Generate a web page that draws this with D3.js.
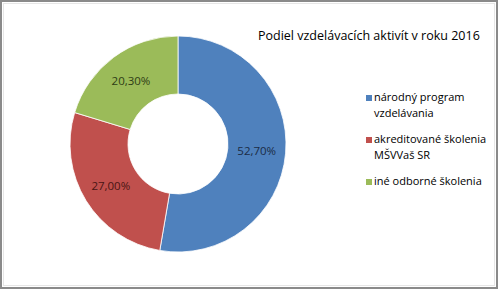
<!DOCTYPE html>
<html>
<head>
<meta charset="utf-8">
<script src="https://cdn.jsdelivr.net/npm/d3@7"></script>
<style>
  body { margin: 0; background: #fff; }
  svg { display: block; font-family: "Open Sans", "Noto Sans", sans-serif; }
</style>
</head>
<body>
<svg id="chart" width="498" height="289"></svg>
<script>
const categories = ["národný program vzdelávania", "akreditované školenia MŠVVaš SR", "iné odborné školenia"];
const legendLines = [["národný program", "vzdelávania"], ["akreditované školenia", "MŠVVaš SR"], ["iné odborné školenia"]];
const values = [52.7, 27.0, 20.3];
const labels = ["52,70%", "27,00%", "20,30%"];
const colors = ["#4F81BD", "#C0504D", "#9BBB59"];
const labelColors = ["#1b2c45", "#4a1514", "#2f3d16"];

const svg = d3.select("#chart");

// frame
svg.append("rect").attr("x", 1).attr("y", 1).attr("width", 496).attr("height", 287)
    .style("fill", "#fff").style("stroke", "#8a8a8a").style("stroke-width", 2);
svg.append("rect").attr("x", 3.5).attr("y", 3.5).attr("width", 491).attr("height", 282)
    .style("fill", "none").style("stroke", "#e6e6e6").style("stroke-width", 1);

svg.append("text").attr("x", 258).attr("y", 40).text("Podiel vzdelávacích aktivít v roku 2016")
    .style("font-size", "12.5px").style("fill", "#000");

const cx = 178, cy = 144;
const pie = d3.pie().sort(null).value(d => d);
const arc = d3.arc().innerRadius(50).outerRadius(108);
const labelArc = d3.arc().innerRadius(79).outerRadius(79);

let g = svg.append("g").attr("transform", `translate(${cx},${cy})`);
let arcs = pie(values);
g.selectAll("path").data(arcs).enter().append("path")
    .attr("d", arc).style("fill", (d, i) => colors[i]).style("stroke", "#fff").style("stroke-width", 0.8);

g.selectAll("text").data(arcs).enter().append("text")
    .attr("x", d => labelArc.centroid(d)[0]).attr("y", d => labelArc.centroid(d)[1])
    .attr("text-anchor", "middle").attr("dy", "0.35em")
    .text((d, i) => labels[i]).style("font-size", "11.5px").style("fill", (d, i) => labelColors[i]);

// legend
const legendY = d3.scalePoint().domain(categories).range([101, 185]);
let lg = svg.selectAll("g.leg").data(categories).enter().append("g").attr("class", "leg")
    .attr("transform", d => `translate(366,${legendY(d)})`);
lg.append("rect").attr("x", 0).attr("y", -6).attr("width", 6).attr("height", 6)
    .style("fill", (d, i) => colors[i]);
lg.each(function(d, i) {
    let t = d3.select(this).append("text").attr("x", 8).attr("y", 0).style("font-size", "11px").style("fill", "#000");
    legendLines[i].forEach((line, j) => t.append("tspan").attr("x", 8).attr("dy", j ? 16 : 0).text(line));
});
</script>
</body>
</html>
